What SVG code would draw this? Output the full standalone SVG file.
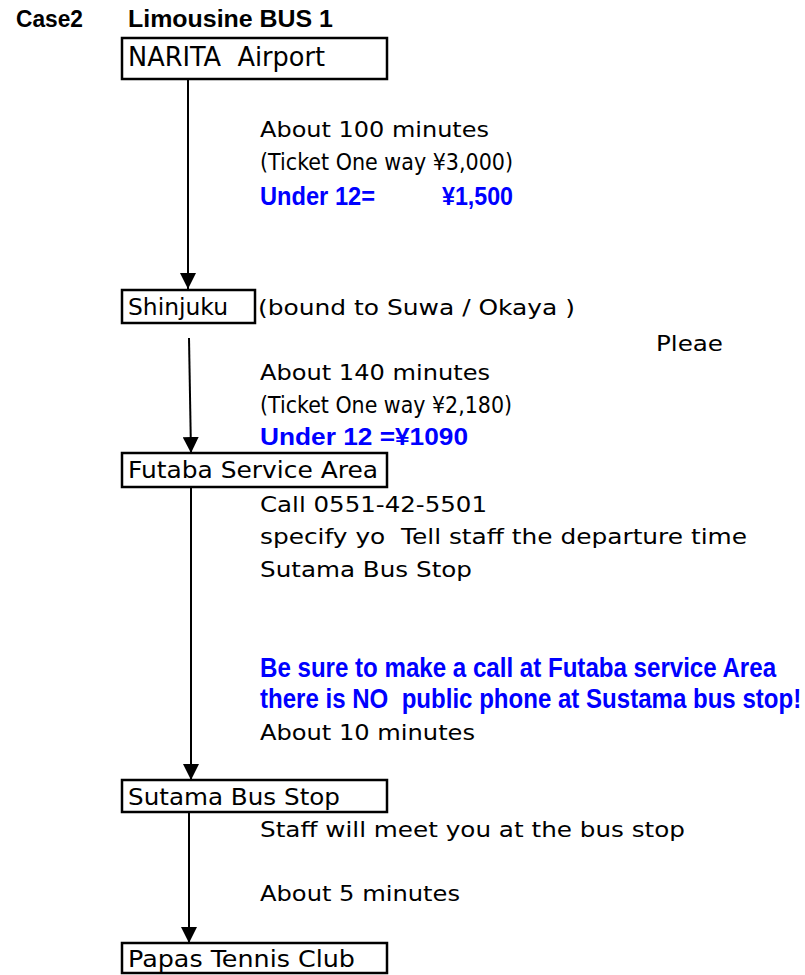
<svg xmlns="http://www.w3.org/2000/svg" width="805" height="975" viewBox="0 0 805 975">
<style>
text{font-family:"DejaVu Sans","Liberation Sans",sans-serif;white-space:pre;fill:#000}
.title{font-family:"Liberation Sans",Arial,sans-serif;font-size:23px;font-weight:bold}
.node{font-size:23px}
.big{font-size:26px}
.t{font-size:22px}
.tk{font-size:23px}
.blue{font-family:"Liberation Sans",Arial,sans-serif;fill:#0000FF;font-weight:bold;font-size:27px}
.blue2{font-family:"Liberation Sans",Arial,sans-serif;fill:#0000FF;font-weight:bold;font-size:25px}
.blue3{font-family:"Liberation Sans",Arial,sans-serif;fill:#0000FF;font-weight:bold;font-size:24px}
.box{fill:#fff;stroke:#000;stroke-width:2.5}
.conn{stroke:#000;stroke-width:2;fill:none}
</style>
<defs>
<marker id="arr" markerUnits="userSpaceOnUse" markerWidth="16" markerHeight="16" refX="16" refY="8" orient="auto" viewBox="0 0 16 16">
<path d="M0,0 L16,8 L0,16 z" fill="#000"/>
</marker>
</defs>
<rect width="805" height="975" fill="#fff"/>
<g id="title">
<text class="title" x="16" y="27" textLength="67" lengthAdjust="spacingAndGlyphs">Case2</text>
<text class="title" x="128" y="27" textLength="205" lengthAdjust="spacingAndGlyphs">Limousine BUS 1</text>
</g>
<g id="connectors">
<line class="conn" x1="188" y1="79" x2="188" y2="289" marker-end="url(#arr)"/>
<line class="conn" x1="189" y1="338" x2="191" y2="453" marker-end="url(#arr)"/>
<line class="conn" x1="191" y1="488" x2="191" y2="780" marker-end="url(#arr)"/>
<line class="conn" x1="189" y1="813" x2="189" y2="943" marker-end="url(#arr)"/>
</g>
<g id="narita">
<rect class="box" x="122" y="38" width="265" height="41"/>
<text class="big" x="128" y="66" textLength="197" lengthAdjust="spacingAndGlyphs">NARITA  Airport</text>
</g>
<g id="leg1">
<text class="t" x="260" y="137" textLength="229" lengthAdjust="spacingAndGlyphs">About 100 minutes</text>
<text class="tk" x="260" y="170" textLength="253" lengthAdjust="spacingAndGlyphs">(Ticket One way &#165;3,000)</text>
<text class="blue2" x="260" y="205" textLength="115" lengthAdjust="spacingAndGlyphs">Under 12=</text>
<text class="blue2" x="442" y="205" textLength="71" lengthAdjust="spacingAndGlyphs">&#165;1,500</text>
</g>
<g id="shinjuku">
<rect class="box" x="122" y="290" width="133" height="33"/>
<text class="node" x="128" y="315" textLength="100" lengthAdjust="spacingAndGlyphs">Shinjuku</text>
<text class="t" x="258" y="315" textLength="317" lengthAdjust="spacingAndGlyphs">(bound to Suwa / Okaya )</text>
</g>
<g id="leg2">
<text class="t" x="656" y="351" textLength="67" lengthAdjust="spacingAndGlyphs">Pleae</text>
<text class="t" x="260" y="380" textLength="230" lengthAdjust="spacingAndGlyphs">About 140 minutes</text>
<text class="tk" x="260" y="413" textLength="252" lengthAdjust="spacingAndGlyphs">(Ticket One way &#165;2,180)</text>
<text class="blue3" x="260" y="445" textLength="208" lengthAdjust="spacingAndGlyphs">Under 12 =&#165;1090</text>
</g>
<g id="futaba">
<rect class="box" x="122" y="453" width="265" height="34"/>
<text class="node" x="128" y="478" textLength="250" lengthAdjust="spacingAndGlyphs">Futaba Service Area</text>
</g>
<g id="leg3">
<text class="t" x="260" y="512" textLength="227" lengthAdjust="spacingAndGlyphs">Call 0551-42-5501</text>
<text class="t" x="260" y="544" textLength="487" lengthAdjust="spacingAndGlyphs">specify yo  Tell staff the departure time</text>
<text class="t" x="260" y="577" textLength="212" lengthAdjust="spacingAndGlyphs">Sutama Bus Stop</text>
<text class="blue" transform="translate(260,677) scale(0.893,1)" x="0" y="0">Be sure to make a call at Futaba service Area</text>
<text class="blue" transform="translate(260,708) scale(0.891,1)" x="0" y="0">there is NO  public phone at Sustama bus stop!</text>
<text class="t" x="260" y="740" textLength="215" lengthAdjust="spacingAndGlyphs">About 10 minutes</text>
</g>
<g id="sutama">
<rect class="box" x="122" y="780" width="265" height="32"/>
<text class="node" x="128" y="805" textLength="212" lengthAdjust="spacingAndGlyphs">Sutama Bus Stop</text>
</g>
<g id="leg4">
<text class="t" x="260" y="837" textLength="425" lengthAdjust="spacingAndGlyphs">Staff will meet you at the bus stop</text>
<text class="t" x="260" y="901" textLength="200" lengthAdjust="spacingAndGlyphs">About 5 minutes</text>
</g>
<g id="papas">
<rect class="box" x="122" y="943" width="265" height="30"/>
<text class="node" x="128" y="967" textLength="227" lengthAdjust="spacingAndGlyphs">Papas Tennis Club</text>
</g>
</svg>
